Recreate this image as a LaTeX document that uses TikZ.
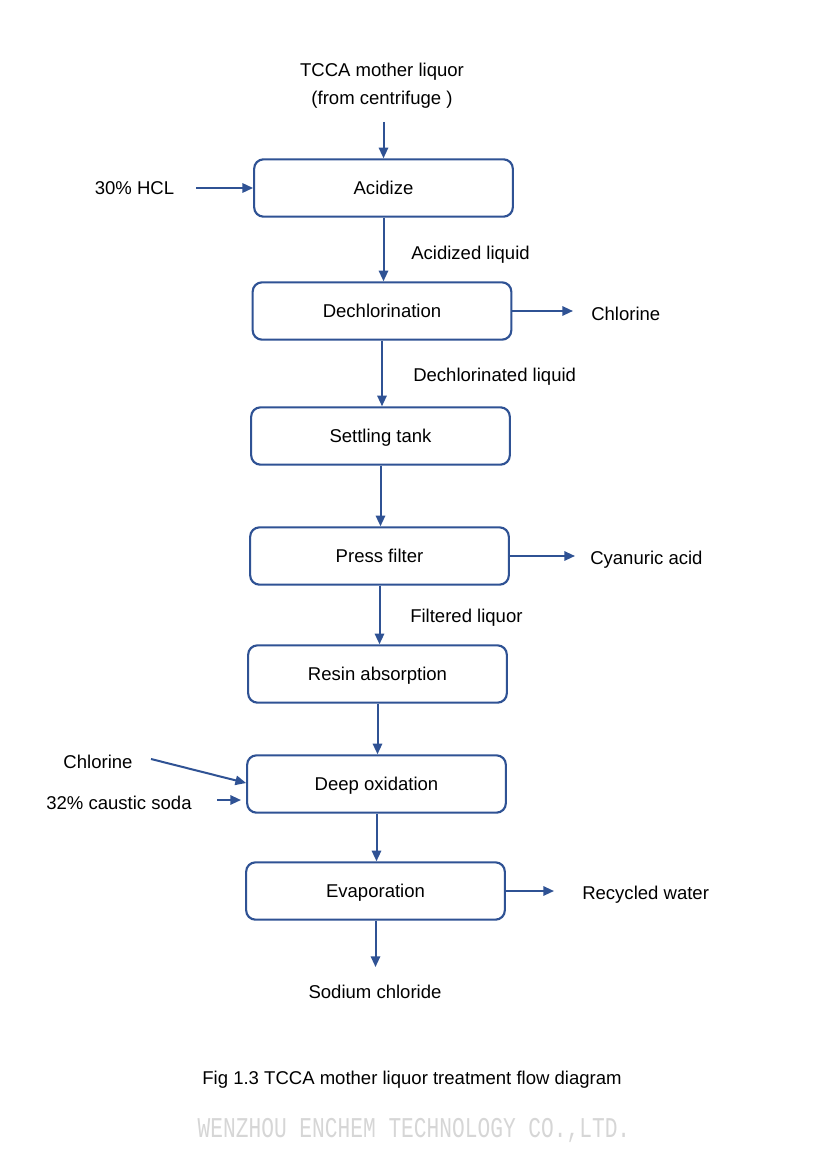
\documentclass[tikz,border=0pt]{standalone}
\usepackage{fontspec}
\setmainfont{Liberation Sans}
\newfontfamily\wmfont{Liberation Mono}
\usetikzlibrary{arrows.meta}
\definecolor{flowblue}{RGB}{47,82,148}
\definecolor{wmgray}{RGB}{214,214,214}
\tikzset{
  stepbox/.style={draw=flowblue, line width=1.6pt, rounded corners=7pt,
    minimum width=194pt, minimum height=43pt, inner sep=0pt,
    font=\fontsize{13.9}{16}\selectfont, text depth=-1.5pt},
  lbl/.style={inner sep=0pt, font=\fontsize{13.9}{16}\selectfont},
  arr/.style={draw=flowblue, line width=1.5pt, -{Triangle[length=8pt,width=7pt]}}
}
\begin{document}
\begin{tikzpicture}[x=0.75pt,y=-0.75pt]
\useasboundingbox[fill=white] (0,0) rectangle (824,1166);
% boxes
\node[stepbox] (acid) at (383.5,188) {Acidize};
\node[stepbox] (dech) at (382,311) {Dechlorination};
\node[stepbox] (settle) at (380.5,436) {Settling tank};
\node[stepbox] (press) at (379.5,556) {Press filter};
\node[stepbox] (resin) at (377.5,674) {Resin absorption};
\node[stepbox] (deep) at (376.5,784) {Deep oxidation};
\node[stepbox] (evap) at (375.5,891) {Evaporation};
% labels
\node[lbl] (tcca) at (382,71.5) {TCCA mother liquor};
\node[lbl] (cent) at (382,99.5) {(from centrifuge )};
\node[lbl] (hcl) at (134.5,188.5) {30\% HCL};
\node[lbl,anchor=west] (acliq) at (411,254.5) {Acidized liquid};
\node[lbl,anchor=west] (cl1) at (591,313.5) {Chlorine};
\node[lbl,anchor=west] (dcliq) at (413,376.5) {Dechlorinated liquid};
\node[lbl,anchor=west] (cya) at (590,559.5) {Cyanuric acid};
\node[lbl,anchor=west] (filt) at (410,617.5) {Filtered liquor};
\node[lbl] (cl2) at (98,761.5) {Chlorine};
\node[lbl] (soda) at (119,802.5) {32\% caustic soda};
\node[lbl,anchor=west] (recyc) at (582,894.5) {Recycled water};
\node[lbl] (nacl) at (375,991.5) {Sodium chloride};
\node[lbl] (caption) at (412,1079.5) {Fig 1.3 TCCA mother liquor treatment flow diagram};
\node[inner sep=0pt, text=wmgray, font=\wmfont\fontsize{15.9}{18}\selectfont, yscale=1.35, transform shape] (wm) at (414,1130) {WENZHOU ENCHEM TECHNOLOGY CO.,LTD.};
% free-end coordinates
\coordinate (inTop) at (383.5,122);
\coordinate (inHCL) at (196,188);
\coordinate (outCl) at (573,311);
\coordinate (outCya) at (575,556);
\coordinate (inCl) at (151,759);
\coordinate (inSoda) at (217,800);
\coordinate (inSodaEnd) at (241,800);
\coordinate (outRec) at (554,891);
\coordinate (outNaCl) at (375.5,967);
% connectors
\draw[arr] (inTop) -- (acid.north);
\draw[arr] (inHCL) -- (acid.west);
\draw[arr] (acid.south) -- (acid.south |- dech.north);
\draw[arr] (dech.east) -- (outCl);
\draw[arr] (dech.south) -- (dech.south |- settle.north);
\draw[arr] (settle.south) -- (settle.south |- press.north);
\draw[arr] (press.east) -- (outCya);
\draw[arr] (press.south) -- (press.south |- resin.north);
\draw[arr] (resin.south) -- (resin.south |- deep.north);
\draw[arr] (inCl) -- (deep.north west |- 0,783);
\draw[arr] (inSoda) -- (inSodaEnd);
\draw[arr] (deep.south) -- (deep.south |- evap.north);
\draw[arr] (evap.east) -- (outRec);
\draw[arr] (evap.south) -- (outNaCl);
\end{tikzpicture}
\end{document}
